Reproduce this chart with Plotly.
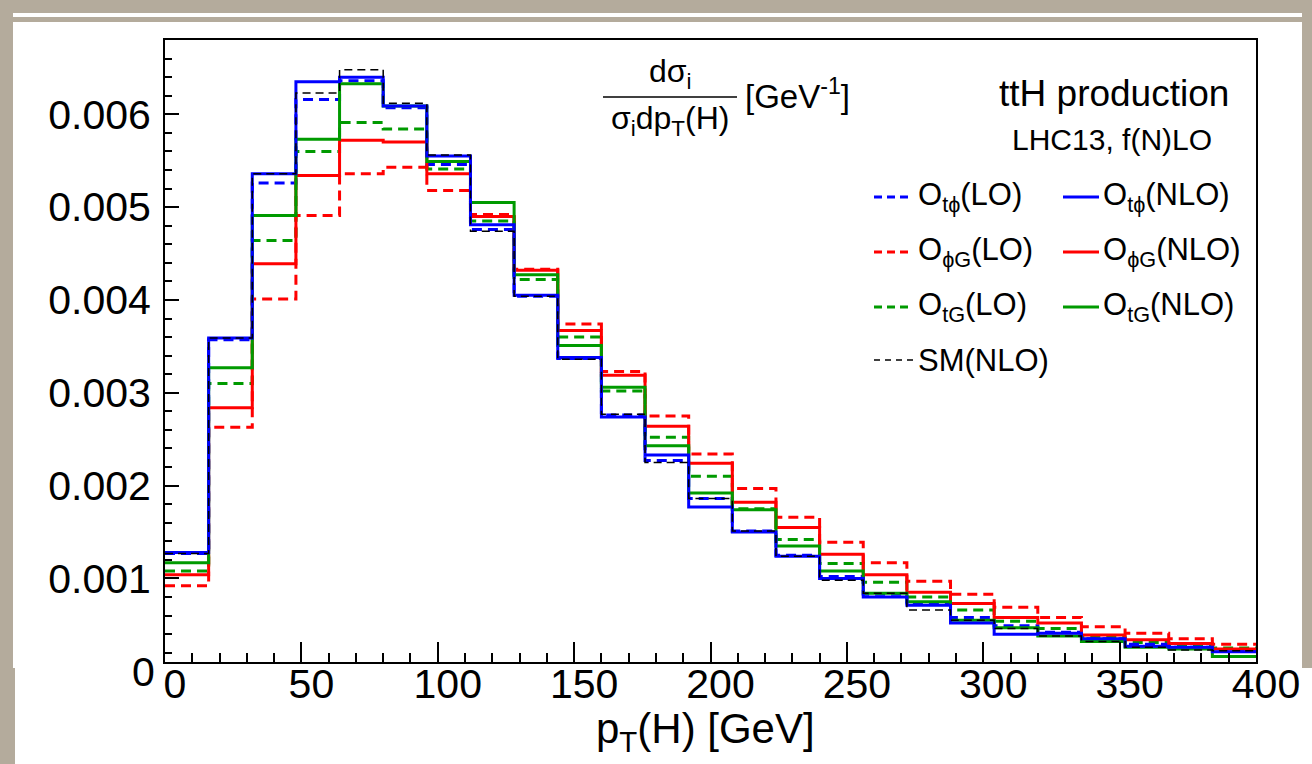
import numpy as np
import plotly.graph_objects as go

# ---------------- data ----------------
bin_width = 16
edges = list(range(0, 401, bin_width))  # 25 bins, 0..400 GeV

otphi_lo = [0.00127, 0.00357, 0.00526, 0.00616, 0.00636, 0.00607, 0.00546, 0.00476, 0.00404, 0.00337,
            0.00276, 0.00227, 0.00186, 0.00151, 0.00125, 0.00102, 0.00083, 0.00072, 0.00058, 0.00049,
            0.00042, 0.00035, 0.00029, 0.00026, 0.00022]
otphi_nlo = [0.00128, 0.00359, 0.00536, 0.00635, 0.00640, 0.00609, 0.00555, 0.00481, 0.00405, 0.00338,
             0.00274, 0.00233, 0.00177, 0.00150, 0.00124, 0.00100, 0.00080, 0.00071, 0.00052, 0.00040,
             0.00041, 0.00035, 0.00027, 0.00026, 0.00021]
ophig_lo = [0.00092, 0.00263, 0.00401, 0.00491, 0.00536, 0.00543, 0.00518, 0.00492, 0.00433, 0.00374,
            0.00323, 0.00275, 0.00234, 0.00197, 0.00166, 0.00139, 0.00117, 0.00097, 0.00083, 0.00069,
            0.00058, 0.00048, 0.00041, 0.00035, 0.00029]
ophig_nlo = [0.00104, 0.00284, 0.00439, 0.00534, 0.00572, 0.00570, 0.00536, 0.00490, 0.00432, 0.00367,
             0.00319, 0.00264, 0.00224, 0.00182, 0.00155, 0.00126, 0.00104, 0.00085, 0.00073, 0.00058,
             0.00052, 0.00039, 0.00034, 0.00030, 0.00024]
otg_lo = [0.00108, 0.00310, 0.00464, 0.00560, 0.00591, 0.00584, 0.00541, 0.00485, 0.00422, 0.00360,
          0.00302, 0.00252, 0.00210, 0.00175, 0.00142, 0.00116, 0.00096, 0.00080, 0.00066, 0.00054,
          0.00046, 0.00037, 0.00031, 0.00027, 0.00025]
otg_nlo = [0.00117, 0.00327, 0.00491, 0.00573, 0.00633, 0.00609, 0.00549, 0.00505, 0.00427, 0.00351,
           0.00306, 0.00243, 0.00192, 0.00174, 0.00135, 0.00108, 0.00084, 0.00075, 0.00055, 0.00047,
           0.00038, 0.00032, 0.00026, 0.00024, 0.00016]
sm_nlo = [0.00127, 0.00359, 0.00536, 0.00623, 0.00648, 0.00612, 0.00556, 0.00474, 0.00404, 0.00336,
          0.00277, 0.00225, 0.00186, 0.00151, 0.00124, 0.00098, 0.00084, 0.00066, 0.00055, 0.00046,
          0.00038, 0.00032, 0.00026, 0.00023, 0.00022]

x_ticks = [0, 50, 100, 150, 200, 250, 300, 350, 400]
y_ticks = [0.001, 0.002, 0.003, 0.004, 0.005, 0.006]
y_ticktext = ["0.001", "0.002", "0.003", "0.004", "0.005", "0.006"]

BLUE = "#0000ff"
RED = "#ff0000"
GREEN = "#009a00"
FONT = "Liberation Sans, Arial, Helvetica, sans-serif"

W, H = 1312, 764
L, R, T, B = 165, 1256, 40, 662  # plot area in pixels

def px(x):
    return (x - L) / (R - L)

def py(y):
    return (B - y) / (B - T)

series = [
    (ophig_lo, RED, "10px,6px", 3),
    (otg_lo, GREEN, "10px,6px", 3),
    (otphi_lo, BLUE, "10px,6px", 3),
    (ophig_nlo, RED, "solid", 3),
    (otg_nlo, GREEN, "solid", 3),
    (otphi_nlo, BLUE, "solid", 3),
    (sm_nlo, "black", "8px,5px", 1.5),
]

fig = go.Figure()
for vals, col, dash, w in series:
    fig.add_trace(go.Scatter(
        x=edges, y=list(vals) + [vals[-1]], mode="lines", line_shape="hv",
        line=dict(color=col, dash=dash, width=w), hoverinfo="skip", showlegend=False,
        cliponaxis=True,
    ))

shapes = []
BEIGE = "#b4ab9c"
# white card and the pasted bottom panel
shapes.append(dict(type="rect", xref="paper", yref="paper", x0=px(13), x1=px(1302), y0=py(668), y1=py(22),
                   fillcolor="white", line=dict(width=0), layer="below"))
shapes.append(dict(type="rect", xref="paper", yref="paper", x0=px(13), x1=px(1302), y0=py(17), y1=py(13),
                   fillcolor="white", line=dict(width=0), layer="below"))
shapes.append(dict(type="rect", xref="paper", yref="paper", x0=px(15), x1=px(1312), y0=py(764), y1=py(668),
                   fillcolor="white", line=dict(width=0), layer="below"))

annotations = []
# fraction title
shapes.append(dict(type="line", xref="paper", yref="paper", x0=px(603), x1=px(737), y0=py(97), y1=py(97),
                   line=dict(color="black", width=1.5)))
annotations.append(dict(text="dσ<sub>i</sub>", x=px(670), y=py(73), xref="paper", yref="paper",
                        xanchor="center", yanchor="middle", showarrow=False, font=dict(size=32, family=FONT)))
annotations.append(dict(text="σ<sub>i</sub>dp<sub>T</sub>(H)", x=px(670), y=py(120), xref="paper", yref="paper",
                        xanchor="center", yanchor="middle", showarrow=False, font=dict(size=32, family=FONT)))
annotations.append(dict(text="[GeV<sup>-1</sup>]", x=px(743), y=py(94), xref="paper", yref="paper",
                        xanchor="left", yanchor="middle", showarrow=False, font=dict(size=33, family=FONT)))
# process labels
annotations.append(dict(text="ttH production", x=px(1231), y=py(93), xref="paper", yref="paper",
                        xanchor="right", yanchor="middle", showarrow=False, font=dict(size=37, family=FONT)))
annotations.append(dict(text="LHC13, f(N)LO", x=px(1214), y=py(140), xref="paper", yref="paper",
                        xanchor="right", yanchor="middle", showarrow=False, font=dict(size=30, family=FONT)))

# manual legend
legend_rows = [
    (197, BLUE, "O<sub>tϕ</sub>(LO)", "O<sub>tϕ</sub>(NLO)"),
    (252, RED, "O<sub>ϕG</sub>(LO)", "O<sub>ϕG</sub>(NLO)"),
    (307, GREEN, "O<sub>tG</sub>(LO)", "O<sub>tG</sub>(NLO)"),
]
for yy, col, lo_txt, nlo_txt in legend_rows:
    shapes.append(dict(type="line", xref="paper", yref="paper", x0=px(874), x1=px(913), y0=py(yy), y1=py(yy),
                       line=dict(color=col, width=3, dash="8px,5px")))
    shapes.append(dict(type="line", xref="paper", yref="paper", x0=px(1063), x1=px(1099), y0=py(yy), y1=py(yy),
                       line=dict(color=col, width=3)))
    annotations.append(dict(text=lo_txt, x=px(916), y=py(yy), xref="paper", yref="paper", xanchor="left",
                            yanchor="middle", showarrow=False, font=dict(size=31, family=FONT)))
    annotations.append(dict(text=nlo_txt, x=px(1101), y=py(yy), xref="paper", yref="paper", xanchor="left",
                            yanchor="middle", showarrow=False, font=dict(size=31, family=FONT)))
shapes.append(dict(type="line", xref="paper", yref="paper", x0=px(874), x1=px(913), y0=py(360), y1=py(360),
                   line=dict(color="black", width=1.5, dash="6px,5px")))
annotations.append(dict(text="SM(NLO)", x=px(916), y=py(360), xref="paper", yref="paper", xanchor="left",
                        yanchor="middle", showarrow=False, font=dict(size=31, family=FONT)))

# y "0" label (partially off-range in the original)
annotations.append(dict(text="0", x=px(157), y=py(672), xref="paper", yref="paper", xanchor="right",
                        yanchor="middle", showarrow=False, font=dict(size=41, family=FONT)))
# x-axis title
annotations.append(dict(text="p<sub>T</sub>(H) [GeV]", x=px(705), y=py(731), xref="paper", yref="paper",
                        xanchor="center", yanchor="middle", showarrow=False, font=dict(size=42, family=FONT)))

fig.update_layout(
    width=W, height=H,
    margin=dict(l=L, r=W - R, t=T, b=H - B, pad=0),
    paper_bgcolor=BEIGE, plot_bgcolor="white",
    shapes=shapes, annotations=annotations, showlegend=False,
    font=dict(family=FONT, color="black"),
)
fig.update_xaxes(
    range=[0, 400], tickvals=x_ticks, ticks="inside", ticklen=20, tickwidth=1.5, tickcolor="black",
    minor=dict(ticks="inside", dtick=10, tick0=0, ticklen=9, tickwidth=1.5, tickcolor="black", showgrid=False),
    showline=True, linewidth=2, linecolor="black", mirror=True, showgrid=False, zeroline=False,
    tickfont=dict(size=41, family=FONT), ticklabelshift=10, ticklabelstandoff=-15,
)
fig.update_yaxes(
    range=[0.0001, 0.0068], tickvals=y_ticks, ticktext=y_ticktext, ticks="inside", ticklen=14, tickwidth=1.5,
    tickcolor="black",
    minor=dict(ticks="inside", dtick=0.0002, tick0=0, ticklen=7, tickwidth=1.5, tickcolor="black", showgrid=False),
    showline=True, linewidth=2, linecolor="black", mirror=True, showgrid=False, zeroline=False,
    tickfont=dict(size=41, family=FONT), ticklabelstandoff=4,
)

fig.write_html("out.html")
